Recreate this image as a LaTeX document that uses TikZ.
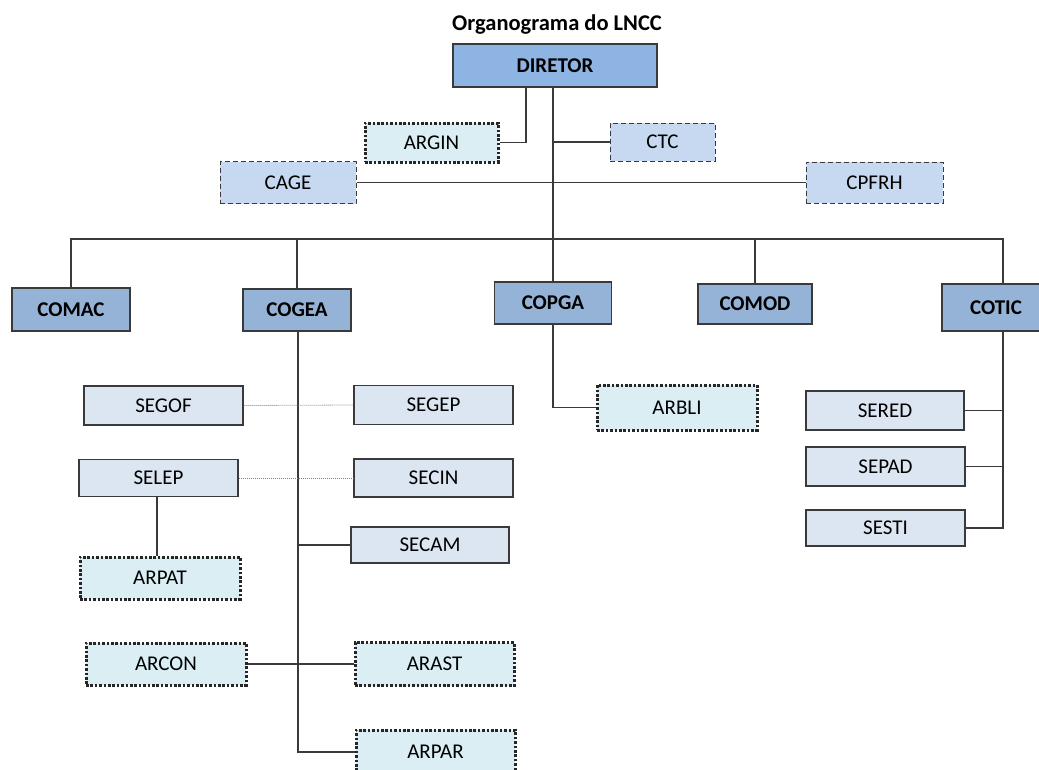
\documentclass[tikz,border=0pt]{standalone}
\usepackage{fontspec}
\setmainfont{Carlito}
\definecolor{dirblue}{HTML}{8DB4E2}
\definecolor{lvtwo}{HTML}{95B3D7}
\definecolor{dashblue}{HTML}{C6D9F1}
\definecolor{sebox}{HTML}{DCE6F2}
\definecolor{arbox}{HTML}{DAEEF3}
\definecolor{edge}{HTML}{3A3A3A}
\tikzset{
  base/.style={inner sep=0pt, font=\fontsize{21}{25}\selectfont, text=black},
  dirbox/.style={base, draw=edge, line width=1.3pt, fill=dirblue, font=\fontsize{21}{25}\selectfont\bfseries},
  coordbox/.style={base, draw=edge, line width=1.3pt, fill=lvtwo, font=\fontsize{21}{25}\selectfont\bfseries},
  dashbox/.style={base, draw=edge, line width=1pt, dash pattern=on 5pt off 3pt, fill=dashblue},
  secbox/.style={base, draw=edge, line width=1.3pt, fill=sebox},
  areabox/.style={base, draw=black!85, line width=3pt, dash pattern=on 2.6pt off 1.8pt, fill=arbox},
  conn/.style={draw=edge, line width=1.1pt},
  dotconn/.style={draw=gray, line width=0.8pt, dash pattern=on 1pt off 1pt},
}
\begin{document}
\begin{tikzpicture}[x=1pt,y=-1pt]
\useasboundingbox (0,0) rectangle (1039,769);
\clip (0,0) rectangle (1039,769);
\node[base, font=\fontsize{22.5}{27}\selectfont\bfseries] (title) at (557,25) {Organograma do LNCC};
\node[dirbox, minimum width=204pt, minimum height=43pt] (DIR) at (555,65.5) {DIRETOR};
\node[areabox, minimum width=133pt, minimum height=39pt] (ARGIN) at (431.5,142.5) {ARGIN};
\node[dashbox, minimum width=105pt, minimum height=38pt] (CTC) at (662.5,142) {CTC};
\node[dashbox, minimum width=136pt, minimum height=42pt] (CAGE) at (288,182.5) {CAGE};
\node[dashbox, minimum width=137pt, minimum height=41pt] (CPFRH) at (874.5,182.5) {CPFRH};

\node[coordbox, minimum width=118pt, minimum height=43pt] (COMAC) at (71,309.5) {COMAC};
\node[coordbox, minimum width=108pt, minimum height=42pt] (COGEA) at (297,310) {COGEA};
\node[coordbox, minimum width=117pt, minimum height=42pt] (COPGA) at (553,303) {COPGA};
\node[coordbox, minimum width=114pt, minimum height=40pt] (COMOD) at (755,304) {COMOD};
\node[coordbox, minimum width=108pt, minimum height=47pt] (COTIC) at (996,307.5) {COTIC};

\node[secbox, minimum width=159pt, minimum height=39pt] (SEGOF) at (163.5,405.5) {SEGOF};
\node[secbox, minimum width=159pt, minimum height=39pt] (SEGEP) at (433.5,405) {SEGEP};
\node[secbox, minimum width=159pt, minimum height=37pt] (SELEP) at (158.5,478) {SELEP};
\node[secbox, minimum width=159pt, minimum height=38pt] (SECIN) at (433.5,478) {SECIN};
\node[secbox, minimum width=158pt, minimum height=36pt] (SECAM) at (430,545) {SECAM};
\node[areabox, minimum width=160pt, minimum height=42pt] (ARPAT) at (160,578) {ARPAT};
\node[areabox, minimum width=160pt, minimum height=42pt] (ARCON) at (166,664) {ARCON};
\node[areabox, minimum width=159pt, minimum height=43pt] (ARAST) at (434.5,664) {ARAST};
\node[areabox, minimum width=159pt, minimum height=44pt] (ARPAR) at (435.5,752) {ARPAR};

\node[areabox, minimum width=160pt, minimum height=45pt] (ARBLI) at (677,407.5) {ARBLI};

\node[secbox, minimum width=158pt, minimum height=39pt] (SERED) at (885,410.5) {SERED};
\node[secbox, minimum width=159pt, minimum height=39pt] (SEPAD) at (885.5,466.5) {SEPAD};
\node[secbox, minimum width=159pt, minimum height=36pt] (SESTI) at (885.5,528) {SESTI};

% connectors
\coordinate (bar) at (0,239);
\coordinate (cotictrunk) at (1003,0);
\draw[conn] ([xshift=-29pt]DIR.south) |- (ARGIN.east);
\draw[conn] (DIR.south -| COPGA.north) -- (COPGA.north);
\draw[conn] (COPGA.north |- CTC.west) -- (CTC.west);
\draw[conn] (CAGE.east) -- (CPFRH.west);
\draw[conn] (COMAC.north) -- (COMAC.north |- bar) -- (cotictrunk |- bar) -- (cotictrunk |- COTIC.north);
\draw[conn] (COGEA.north) -- (COGEA.north |- bar);
\draw[conn] (COMOD.north) -- (COMOD.north |- bar);

\draw[conn] ([xshift=1pt]COGEA.south) -- ([xshift=1pt]COGEA.south |- ARPAR.west) -- (ARPAR.west);
\draw[conn] ([xshift=1pt]COGEA.south |- SECAM.west) -- (SECAM.west);
\draw[dotconn] (SEGOF.east) -- (SEGEP.west);
\draw[dotconn] (SELEP.east) -- (SECIN.west);
\draw[conn] ([xshift=-1.5pt]SELEP.south) -- ([xshift=-1.5pt]SELEP.south |- ARPAT.north);
\draw[conn] (ARCON.east) -- (ARAST.west);

\draw[conn] (COPGA.south) |- (ARBLI.west);

\draw[conn] (cotictrunk |- COTIC.south) -- (cotictrunk |- SESTI.east) -- (SESTI.east);
\draw[conn] (SERED.east) -- (cotictrunk |- SERED.east);
\draw[conn] (SEPAD.east) -- (cotictrunk |- SEPAD.east);
\end{tikzpicture}
\end{document}
